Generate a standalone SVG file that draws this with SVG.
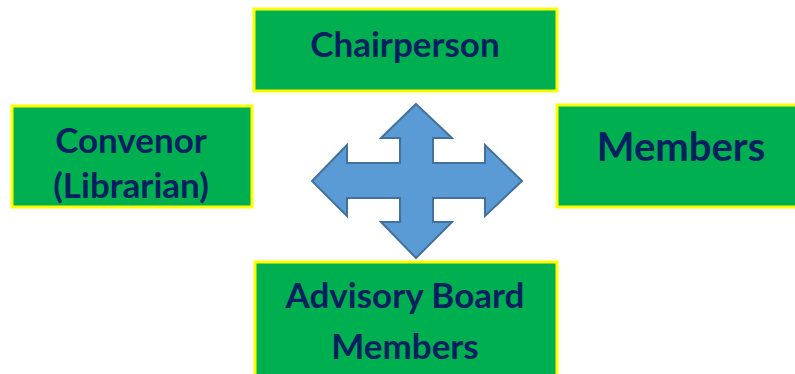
<svg xmlns="http://www.w3.org/2000/svg" width="795" height="374" viewBox="0 0 795 374">
<style>
.box{fill:#00B050;stroke:#FFFF00;stroke-width:3}
.t{font-family:Lato,"Open Sans",sans-serif;font-weight:bold;fill:#002060;text-anchor:middle;font-size:35px}
.arrow{fill:#5B9BD5;stroke:#41719C;stroke-width:2;stroke-linejoin:miter}
</style>
<rect width="795" height="374" fill="#FFFFFF"/>
<g id="connectors">
<path class="arrow" d="M416,104 L452,138 L433,138 L433,163 L485,163 L485,145 L522,181 L485,216 L485,198 L433,198 L433,222 L452,222 L416,258 L381,222 L400,222 L400,198 L347,198 L347,216 L312,181 L347,145 L347,163 L400,163 L400,138 L381,138 Z"/>
</g>
<g id="chairperson">
<rect class="box" x="254" y="9" width="303" height="82"/>
<text class="t" x="405" y="57">Chairperson</text>
</g>
<g id="convenor">
<rect class="box" x="12" y="106" width="240" height="101"/>
<text class="t" x="131" y="153">Convenor</text>
<text class="t" x="131" y="198">(Librarian)</text>
</g>
<g id="members">
<rect class="box" x="557" y="105" width="245" height="102"/>
<text class="t" x="681" y="161" style="font-size:40px">Members</text>
</g>
<g id="advisory">
<rect class="box" x="255" y="262" width="302" height="120"/>
<text class="t" x="405" y="308">Advisory Board</text>
<text class="t" x="405" y="359">Members</text>
</g>
</svg>
